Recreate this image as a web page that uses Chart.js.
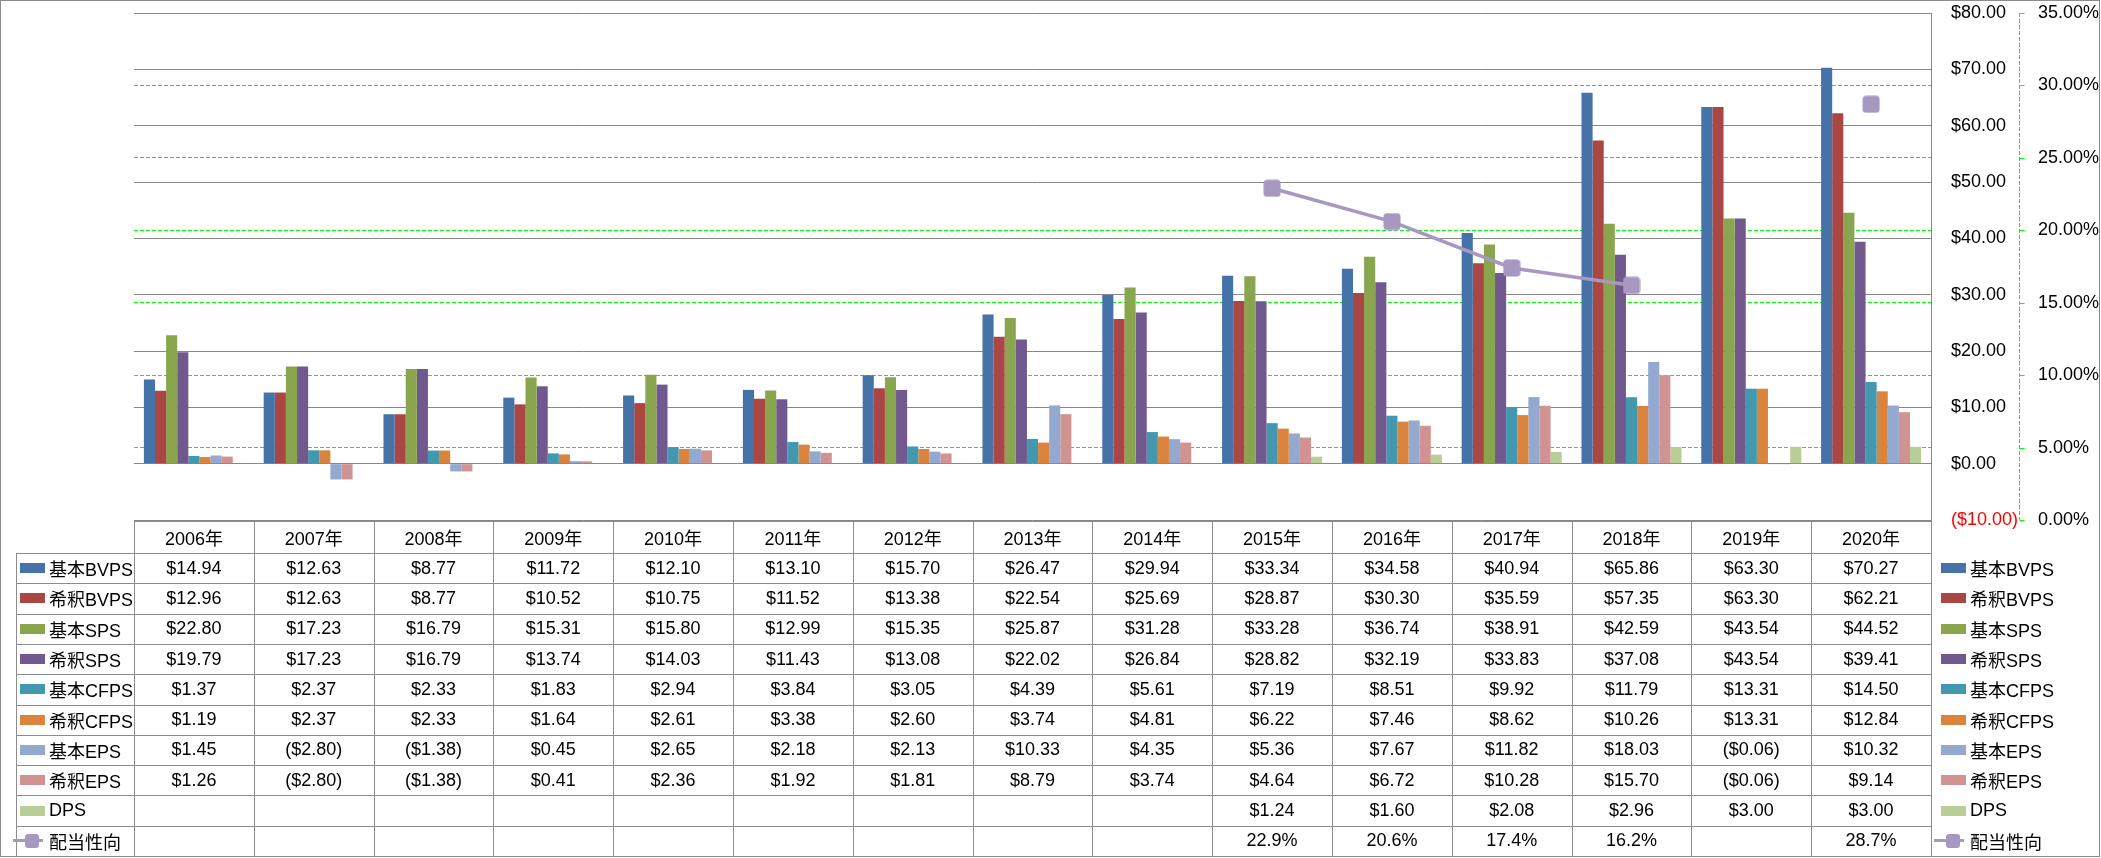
<!DOCTYPE html>
<html lang="ja">
<head>
  <meta charset="UTF-8">
  <title>BVPS・SPS・CFPS・EPS・DPS・配当性向</title>
  <script src="https://cdn.jsdelivr.net/npm/chart.js@4"></script>
  <style>
    body { margin: 0; background: #fff; font-family: "Liberation Sans", "Noto Sans CJK JP", sans-serif; }
    #wrap { position: relative; width: 2101px; height: 858px; overflow: hidden; }
    #frame { position: absolute; left: 0; top: 0; width: 2100px; height: 857px; border: 1px solid #8c8c8c; box-sizing: border-box; }
    canvas { position: absolute; left: 0; top: 0; }
    .ln { position: absolute; background: #8c8c8c; }
    .cell { position: absolute; display: flex; align-items: center; justify-content: center; font-size: 18px; color: #000; white-space: nowrap; }
    .leg { position: absolute; display: flex; align-items: center; font-size: 18px; color: #000; white-space: nowrap; }
    .key { position: absolute; }
  </style>
</head>
<body>
  <div id="wrap">
    <canvas id="chart" width="2101" height="858"></canvas>
    <div id="frame"></div>
  </div>

  <script>
    // 年度
    const years = ["2006年", "2007年", "2008年", "2009年", "2010年", "2011年", "2012年", "2013年",
                   "2014年", "2015年", "2016年", "2017年", "2018年", "2019年", "2020年"];

    const basicBVPS   = [14.94, 12.63, 8.77, 11.72, 12.10, 13.10, 15.70, 26.47, 29.94, 33.34, 34.58, 40.94, 65.86, 63.30, 70.27];
    const dilutedBVPS = [12.96, 12.63, 8.77, 10.52, 10.75, 11.52, 13.38, 22.54, 25.69, 28.87, 30.30, 35.59, 57.35, 63.30, 62.21];
    const basicSPS    = [22.80, 17.23, 16.79, 15.31, 15.80, 12.99, 15.35, 25.87, 31.28, 33.28, 36.74, 38.91, 42.59, 43.54, 44.52];
    const dilutedSPS  = [19.79, 17.23, 16.79, 13.74, 14.03, 11.43, 13.08, 22.02, 26.84, 28.82, 32.19, 33.83, 37.08, 43.54, 39.41];
    const basicCFPS   = [1.37, 2.37, 2.33, 1.83, 2.94, 3.84, 3.05, 4.39, 5.61, 7.19, 8.51, 9.92, 11.79, 13.31, 14.50];
    const dilutedCFPS = [1.19, 2.37, 2.33, 1.64, 2.61, 3.38, 2.60, 3.74, 4.81, 6.22, 7.46, 8.62, 10.26, 13.31, 12.84];
    const basicEPS    = [1.45, -2.80, -1.38, 0.45, 2.65, 2.18, 2.13, 10.33, 4.35, 5.36, 7.67, 11.82, 18.03, -0.06, 10.32];
    const dilutedEPS  = [1.26, -2.80, -1.38, 0.41, 2.36, 1.92, 1.81, 8.79, 3.74, 4.64, 6.72, 10.28, 15.70, -0.06, 9.14];
    const dps         = [null, null, null, null, null, null, null, null, null, 1.24, 1.60, 2.08, 2.96, 3.00, 3.00];
    const payoutRatio = [null, null, null, null, null, null, null, null, null, 22.9, 20.6, 17.4, 16.2, null, 28.7]; // %

    // 軸の目盛
    const priceTicks = [-10, 80, 10];   // min, max, step
    const ratioTicks = [0, 35, 5];

    const barNames  = ["基本BVPS", "希釈BVPS", "基本SPS", "希釈SPS", "基本CFPS", "希釈CFPS", "基本EPS", "希釈EPS", "DPS"];
    const barData   = [basicBVPS, dilutedBVPS, basicSPS, dilutedSPS, basicCFPS, dilutedCFPS, basicEPS, dilutedEPS, dps];
    const barColors = ["#4572A7", "#AA4643", "#89A54E", "#71588F", "#4198AF", "#DB843D", "#93A9CF", "#D19392", "#B9CD96"];
    const lineName  = "配当性向";
    const lineColor = "#A698C0";

    const money = v => v < 0 ? "($" + Math.abs(v).toFixed(2) + ")" : "$" + v.toFixed(2);

    // 角の丸い四角マーカー
    const marker = document.createElement("canvas");
    marker.width = 18; marker.height = 18;
    const mctx = marker.getContext("2d");
    mctx.fillStyle = lineColor;
    mctx.beginPath();
    mctx.roundRect(0.5, 0.5, 17, 17, 3.5);
    mctx.fill();

    // 副軸の破線と短い目盛線
    const dashedAxis = {
      id: "dashedAxis",
      afterDraw(chart) {
        const s = chart.scales.y1, ctx = chart.ctx;
        const x = Math.round(s.left) + 0.5;
        ctx.save();
        ctx.strokeStyle = "#00ff00";
        ctx.lineWidth = 1;
        ctx.setLineDash([4, 2]);
        ctx.beginPath();
        ctx.moveTo(x, s.top);
        ctx.lineTo(x, s.bottom);
        ctx.stroke();
        ctx.setLineDash([]);
        s.ticks.forEach(t => {
          const y = Math.round(s.getPixelForValue(t.value)) + 0.5;
          ctx.beginPath();
          ctx.moveTo(x, y);
          ctx.lineTo(x + 5, y);
          ctx.stroke();
        });
        ctx.restore();
      }
    };

    Chart.defaults.font.family = '"Liberation Sans", "Noto Sans CJK JP", sans-serif';
    Chart.defaults.font.size = 18;

    const datasets = [{
      type: "line",
      label: lineName,
      data: payoutRatio,
      yAxisID: "y1",
      borderColor: lineColor,
      borderWidth: 3.5,
      pointStyle: marker,
      spanGaps: false,
      order: 0
    }];
    barNames.forEach((name, i) => {
      datasets.push({
        type: "bar",
        label: name,
        data: barData[i],
        yAxisID: "y",
        backgroundColor: barColors[i],
        borderWidth: 0,
        categoryPercentage: 0.835,
        barPercentage: 1,
        order: 1
      });
    });

    new Chart(document.getElementById("chart"), {
      type: "bar",
      data: { labels: years, datasets: datasets },
      plugins: [dashedAxis],
      options: {
        responsive: false,
        animation: false,
        devicePixelRatio: 1,
        layout: { padding: { left: 134, top: 13, right: 2, bottom: 338 } },
        plugins: { legend: { display: false }, tooltip: { enabled: false } },
        scales: {
          x: { display: false },
          y: {
            position: "right",
            weight: 0,
            min: priceTicks[0], max: priceTicks[1],
            ticks: {
              stepSize: priceTicks[2],
              padding: 0,
              color: c => c.tick.value < 0 ? "#ff0000" : "#000000",
              callback: v => money(v)
            },
            grid: { color: "#878787", lineWidth: 1, drawTicks: true, tickLength: 20, tickColor: "rgba(0,0,0,0)" },
            border: { display: true, color: "#878787" },
            afterFit: s => { s.width = 88; }
          },
          y1: {
            position: "right",
            weight: 1,
            min: ratioTicks[0], max: ratioTicks[1],
            ticks: {
              stepSize: ratioTicks[2],
              padding: 0,
              color: "#000000",
              callback: v => v.toFixed(2) + "%"
            },
            grid: {
              color: c => (c.tick.value === ratioTicks[0] || c.tick.value === ratioTicks[1]) ? "rgba(0,0,0,0)" : "#00ff00",
              tickColor: "rgba(0,0,0,0)",
              tickLength: 19
            },
            border: { display: false, dash: [4, 2] },
            afterFit: s => { s.width = 80; }
          }
        }
      }
    });

    // データテーブル
    const wrap = document.getElementById("wrap");
    const X0 = 134, X1 = 1931, LEG_L = 16, TOP = 521, HEAD_H = 32, ROW_H = 30.3;
    const colW = (X1 - X0) / years.length;
    const rowTop = i => TOP + HEAD_H + i * ROW_H;
    const BOTTOM = rowTop(barNames.length + 1);

    function add(cls, css, text) {
      const d = document.createElement("div");
      d.className = cls;
      d.style.cssText = css;
      if (text != null) d.textContent = text;
      wrap.appendChild(d);
      return d;
    }
    const hline = (x1, x2, y) => add("ln", `left:${Math.round(x1)}px;top:${Math.round(y)}px;width:${Math.round(x2 - x1) + 1}px;height:1px`);
    const vline = (x, y1, y2) => add("ln", `left:${Math.round(x)}px;top:${Math.round(y1)}px;width:1px;height:${Math.round(y2 - y1) + 1}px`);

    hline(X0, X1, TOP);
    for (let i = 0; i <= barNames.length + 1; i++) hline(LEG_L, X1, rowTop(i));
    vline(LEG_L, rowTop(0), BOTTOM);
    for (let k = 0; k <= years.length; k++) vline(X0 + k * colW, k === years.length ? 520 : TOP, BOTTOM);

    years.forEach((y, k) => {
      add("cell", `left:${X0 + k * colW}px;top:${TOP}px;width:${colW}px;height:${HEAD_H}px`, y);
    });

    const rows = barNames.map((n, i) => ({ name: n, data: barData[i], color: barColors[i], fmt: money, line: false }));
    rows.push({ name: lineName, data: payoutRatio, color: lineColor, fmt: v => v.toFixed(1) + "%", line: true });

    function legendEntry(keyLeft, y, row) {
      const cy = y + ROW_H / 2;
      if (row.line) {
        add("key", `left:${keyLeft - 7}px;top:${cy - 1.5}px;width:30px;height:3px;background:${row.color}`);
        add("key", `left:${keyLeft + 5}px;top:${cy - 7}px;width:14px;height:14px;border-radius:3px;background:${row.color}`);
      } else {
        add("key", `left:${keyLeft}px;top:${cy - 5}px;width:25px;height:10px;background:${row.color}`);
      }
      add("leg", `left:${keyLeft + 29}px;top:${y}px;height:${ROW_H}px`, row.name);
    }

    rows.forEach((row, i) => {
      const y = rowTop(i);
      legendEntry(20, y, row);
      legendEntry(1941, y, row);
      row.data.forEach((v, k) => {
        if (v == null) return;
        add("cell", `left:${X0 + k * colW}px;top:${y}px;width:${colW}px;height:${ROW_H}px`, row.fmt(v));
      });
    });
  </script>
</body>
</html>
